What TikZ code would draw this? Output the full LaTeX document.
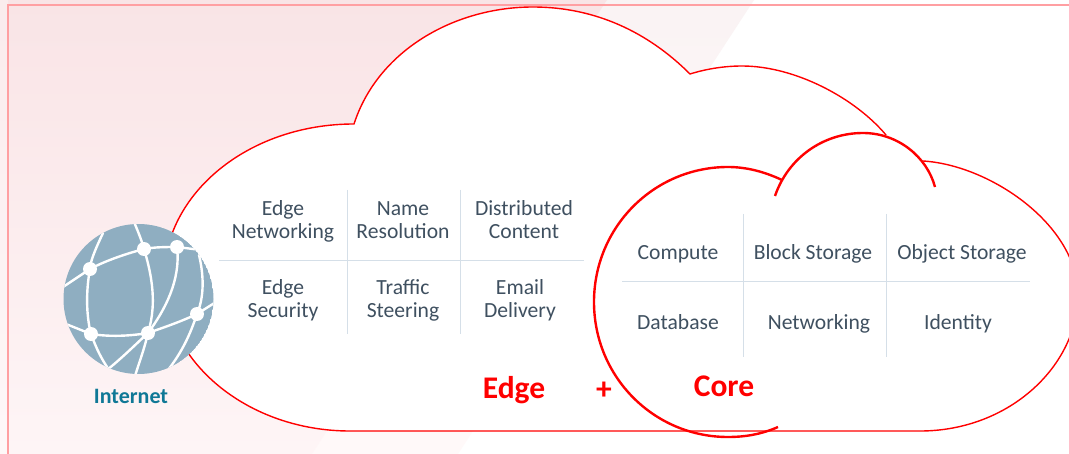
\documentclass[tikz,border=0pt]{standalone}
\usepackage{fontspec}
\setmainfont{Carlito}
\definecolor{framepink}{HTML}{FF9FA2}
\definecolor{cloudred}{HTML}{FF0000}
\definecolor{gridgrey}{HTML}{D5DFE8}
\definecolor{cellink}{HTML}{3F5060}
\definecolor{globeblue}{HTML}{8FAEC1}
\definecolor{nettext}{HTML}{0F7896}
\definecolor{bandtop}{HTML}{FAF3F4}
\definecolor{bandbot}{HTML}{FFF9F9}
\definecolor{bgtop}{HTML}{F9E4E6}
\definecolor{bgbot}{HTML}{FEF5F6}
\tikzset{
  cell/.style={align=center,anchor=base,text=cellink,inner sep=0pt,font=\fontsize{21.6}{23}\selectfont},
  redlabel/.style={anchor=base,text=cloudred,inner sep=0pt,font=\fontsize{31.5}{33}\selectfont\bfseries},
  gridline/.style={draw=gridgrey,line width=1pt},
  outercloud/.style={draw=cloudred,line width=1.4pt,line join=miter},
  innercloud/.style={draw=cloudred,line width=2.4pt},
  gridwire/.style={draw=white,line width=2.4pt,line cap=round},
  hub/.style={circle,fill=white,inner sep=0pt,minimum size=14pt}
}
\begin{document}
\begin{tikzpicture}[x=1pt,y=-1pt]
\useasboundingbox (0,0) rectangle (1069,454);
\fill[white] (0,0) rectangle (1069,454);
% background bands
\shade[top color=bandtop,bottom color=bandbot]
  (607,0) -- (754,0) -- (458,454) -- (312,454) -- cycle;
\shade[top color=bgtop,bottom color=bgbot]
  (0,0) -- (607,0) -- (312,454) -- (0,454) -- cycle;
\fill[white,opacity=.3] (0,0) rectangle (8,454);
\draw[framepink,line width=2pt] (8,454) -- (8,5) -- (1069,5);
% outer cloud
\fill[white] (354,124)
  .. controls (378,50) and (455,7) .. (533,7)
  .. controls (595,7) and (648,32) .. (690,74)
  .. controls (706,69) and (724,66) .. (742,66)
  .. controls (795,66) and (855,98) .. (886,135)
  -- (923,161)
  .. controls (990,165) and (1078,225) .. (1078,295)
  .. controls (1078,365) and (1010,431) .. (920,431)
  -- (350,431)
  .. controls (248,431) and (164,362) .. (164,278)
  .. controls (164,194) and (248,124) .. (354,124) -- cycle;
\draw[outercloud] (886,135)
  .. controls (855,98) and (795,66) .. (742,66)
  .. controls (724,66) and (706,69) .. (690,74)
  .. controls (648,32) and (595,7) .. (533,7)
  .. controls (455,7) and (378,50) .. (354,124)
  .. controls (248,124) and (164,194) .. (164,278)
  .. controls (164,362) and (248,431) .. (350,431)
  -- (920,431)
  .. controls (1010,431) and (1078,365) .. (1078,295)
  .. controls (1078,225) and (990,165) .. (923,161);
% inner cloud
\draw[innercloud] (778,427)
  .. controls (762,434) and (746,437) .. (728,437)
  .. controls (654,437) and (594,377) .. (594,302)
  .. controls (594,227) and (654,167) .. (728,167)
  .. controls (747,167) and (765,172) .. (782,180);
\draw[innercloud] (775,196)
  .. controls (788,158) and (823,133) .. (863,133)
  .. controls (898,133) and (927,157) .. (935,187);
% grids
\draw[gridline] (347,190) -- (347,334);
\draw[gridline] (460,190) -- (460,334);
\draw[gridline] (219,261) -- (584,261);
\draw[gridline] (743,214) -- (743,357);
\draw[gridline] (886,214) -- (886,357);
\draw[gridline] (622,282) -- (1030,282);
% globe
\begin{scope}
\clip (138.5,299) circle (75);
\fill[globeblue] (138.5,299) circle (75);
\coordinate (n1) at (90,269);
\coordinate (n2) at (144,249);
\coordinate (n3) at (177,247);
\coordinate (n4) at (197,314);
\coordinate (n5) at (148,333);
\coordinate (n6) at (91,334);
\draw[gridwire] (60,289) -- (n1) .. controls (105,261) and (125,254) .. (n2) .. controls (155,247) and (166,247) .. (n3) -- (201,250);
\draw[gridwire] (103,233) .. controls (95,250) and (90,262) .. (n1) .. controls (86,290) and (86,315) .. (n6);
\draw[gridwire] (66,324) -- (n6) .. controls (97,350) and (101,358) .. (109,370);
\draw[gridwire] (n6) .. controls (110,337) and (130,336) .. (n5);
\draw[gridwire] (n5) .. controls (165,327) and (180,322) .. (n4) -- (216,302);
\draw[gridwire] (134,222) .. controls (140,236) and (142,242) .. (n2) .. controls (155,285) and (155,310) .. (n5) .. controls (144,350) and (140,360) .. (135,376);
\draw[gridwire] (n3) .. controls (181,280) and (165,310) .. (n5) .. controls (135,345) and (122,358) .. (107,370);
\draw[gridwire] (199,255) .. controls (205,280) and (203,300) .. (n4) .. controls (190,335) and (182,352) .. (168,370);
\end{scope}
\node[hub] (h1) at (n1) {};
\node[hub] (h2) at (n2) {};
\node[hub] (h3) at (n3) {};
\node[hub] (h4) at (n4) {};
\node[hub] (h5) at (n5) {};
\node[hub] (h6) at (n6) {};
% labels
\node[cell] (a1) at (283,239) {Edge\\Networking};
\node[cell] (a2) at (403,239) {Name\\Resolution};
\node[cell] (a3) at (524,239) {Distributed\\Content};
\node[cell] (a4) at (283,318) {Edge\\Security};
\node[cell] (a5) at (403,318) {Traffic\\Steering};
\node[cell] (a6) at (520,318) {Email\\Delivery};
\node[cell] (b1) at (678,259.5) {Compute};
\node[cell] (b2) at (813,259.5) {Block Storage};
\node[cell] (b3) at (962,259.5) {Object Storage};
\node[cell] (b4) at (678,329.5) {Database};
\node[cell] (b5) at (819,329.5) {Networking};
\node[cell] (b6) at (958,329.5) {Identity};
\node[redlabel] (edge) at (514,399) {Edge};
\node[redlabel] (plus) at (604,400) {+};
\node[redlabel] (core) at (724,396) {Core};
\node[anchor=base,text=nettext,inner sep=0pt,font=\fontsize{22}{24}\selectfont\bfseries] (internet) at (131,403) {Internet};
\end{tikzpicture}
\end{document}
